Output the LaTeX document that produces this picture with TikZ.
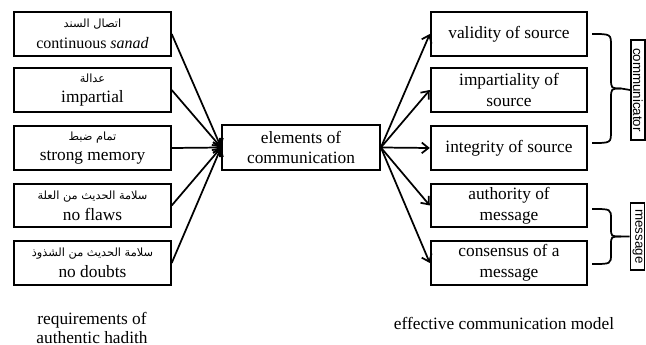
\documentclass[tikz,border=0pt]{standalone}
\usepackage{fontspec}
\setmainfont{Liberation Serif}
\setsansfont{Liberation Sans}
\newfontfamily\arabicfont[Script=Arabic]{DejaVu Sans}
\TeXXeTstate=1
\usetikzlibrary{arrows.meta}
\newcommand{\arb}[1]{{\arabicfont\fontsize{8.5}{10}\selectfont\beginR #1\endR}}

\begin{document}
\begin{tikzpicture}[x=0.75pt, y=-0.75pt, font=\fontsize{13}{15.5}\selectfont,
		box/.style={draw, line width=1.3pt, minimum width=117.5pt, minimum height=32.5pt, inner sep=0pt, align=center},
		tag/.style={draw, line width=1.3pt, rotate=-90, minimum height=10.5pt, inner sep=0pt, font=\sffamily\fontsize{10}{12}\selectfont},
		link/.style={line width=1.3pt, -{Straight Barb[length=5pt,width=8pt]}},
		curl/.style={line width=1.3pt}]
		\useasboundingbox (0,0) rectangle (646,345);
		% requirements of authentic hadith
		\node[box] (src1) at (92.5,34) {\arb{اتصال السند}\\{\fontsize{12}{15.5}\selectfont continuous \textit{sanad}}};
		\node[box] (src2) at (92.5,90) {\arb{عدالة}\\impartial};
		\node[box] (src3) at (92.5,148) {\arb{تمام ضبط}\\strong memory};
		\node[box] (src4) at (92.5,205.5) {\arb{سلامة الحديث من العلة}\\no flaws};
		\node[box] (src5) at (92.5,263) {\arb{سلامة الحديث من الشذوذ}\\no doubts};
		% centre
		\node[box, minimum width=118.5pt, minimum height=34pt] (elem) at (301,147.5) {elements of\\communication};
		% effective communication model
		\node[box] (eff1) at (509,34) {validity of source};
		\node[box] (eff2) at (509,90) {impartiality of\\source};
		\node[box] (eff3) at (509,148) {integrity of source};
		\node[box] (eff4) at (509,205.5) {authority of\\message};
		\node[box] (eff5) at (509,263) {consensus of a\\message};
		\foreach \i in {1,...,5} {
			\draw[link] (src\i.east) -- (elem.west);
			\draw[link] (elem.east) -- (eff\i.west);
		}
		% side labels
		\node[tag, minimum width=75pt] (comm) at (638,90) {communicator};
		\node[tag, minimum width=50pt] (mess) at (637.5,236.5) {message};
		\draw[curl] (592,34) .. controls (611,34) .. (611,46) -- (611,78) .. controls (611,88.5) .. (621,88.5) -- (comm.south);
		\draw[curl] (592,143) .. controls (611,143) .. (611,131) -- (611,99) .. controls (611,88.5) .. (621,88.5);
		\draw[curl] (592,209) .. controls (611,209) .. (611,219) -- (611,228) .. controls (611,236.5) .. (621,236.5) -- (mess.south);
		\draw[curl] (592,264) .. controls (611,264) .. (611,254) -- (611,245) .. controls (611,236.5) .. (621,236.5);
		% captions
		\node[align=center, font=\fontsize{13}{14.25}\selectfont] (req) at (92,327.5) {requirements of\\authentic hadith};
		\node (model) at (504,323) {effective communication model};
\end{tikzpicture}
\end{document}
